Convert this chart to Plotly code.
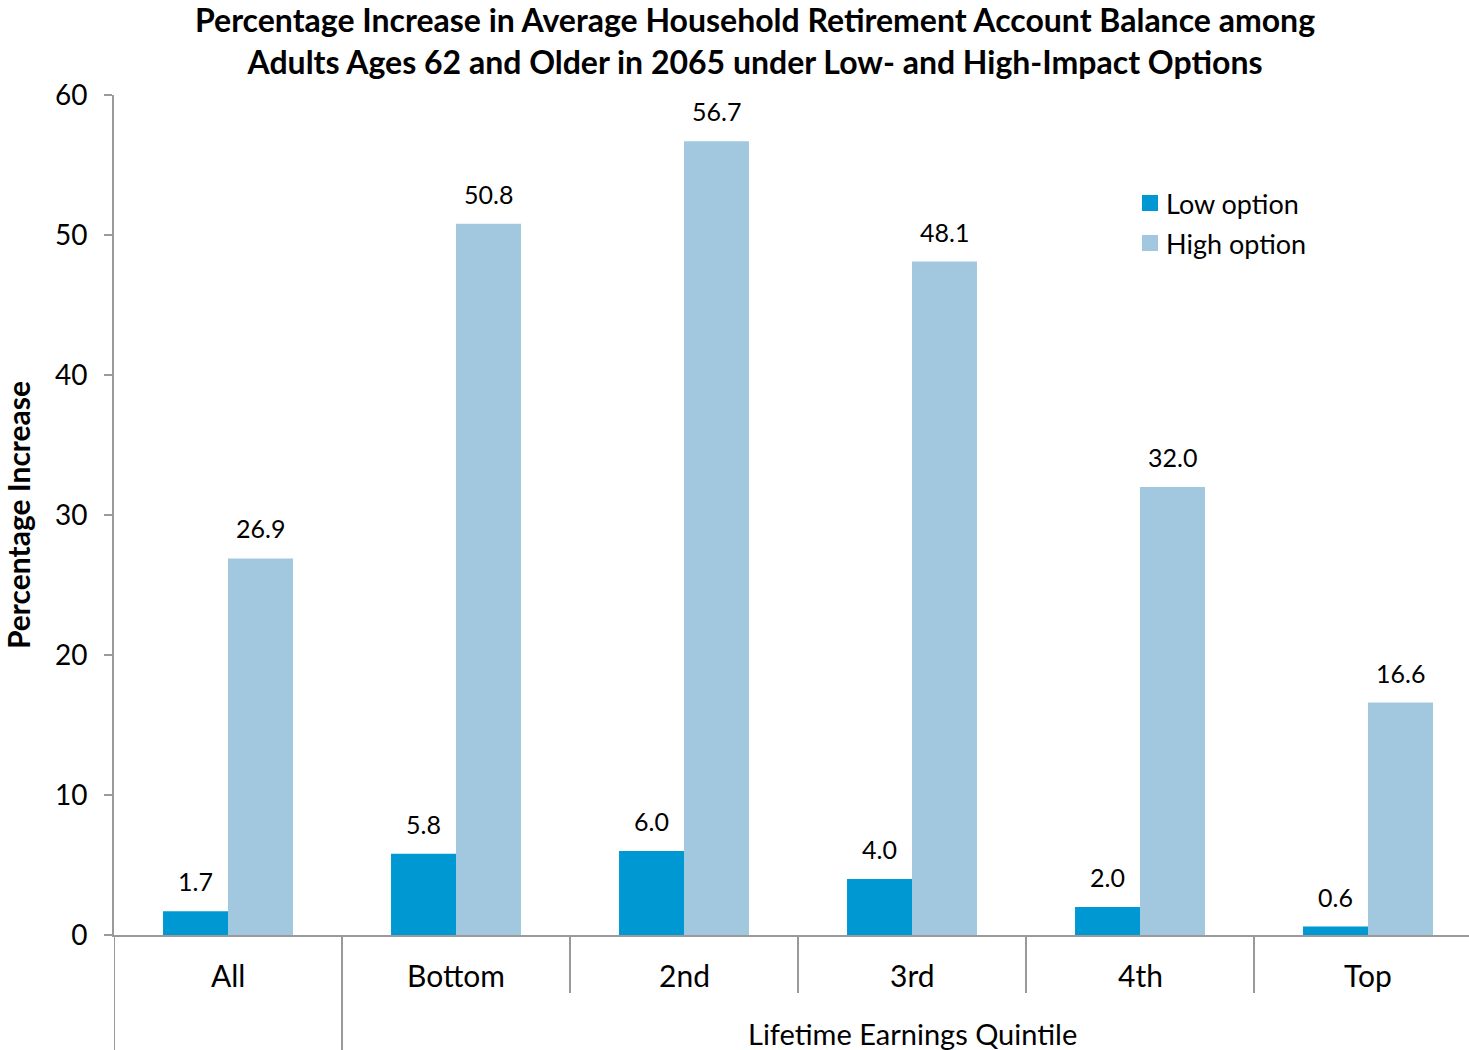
import plotly.graph_objects as go

# Chart data
categories = ["All", "Bottom", "2nd", "3rd", "4th", "Top"]
series_names = ["Low option", "High option"]
low_option = [1.7, 5.8, 6.0, 4.0, 2.0, 0.6]
high_option = [26.9, 50.8, 56.7, 48.1, 32.0, 16.6]
y_ticks = [0, 10, 20, 30, 40, 50, 60]
title_lines = [
    "Percentage Increase in Average Household Retirement Account Balance among",
    "Adults Ages 62 and Older in 2065 under Low- and High-Impact Options",
]

LOW_COLOR = "#0098D2"
HIGH_COLOR = "#A1C8DF"
AXIS_COLOR = "#9A9A9A"
FONT = "Gill Sans MT, Gill Sans, Lato, sans-serif"

W, H = 1469, 1050
ML, MR, MT, MB = 114, 0, 95, 115
plot_w = W - ML - MR
plot_h = H - MT - MB


def px_x(px):
    """pixel column -> paper x"""
    return (px - ML) / plot_w


def px_y(py):
    """pixel row -> paper y"""
    return (H - MB - py) / plot_h


x_pos = list(range(len(categories)))

fig = go.Figure()
fig.add_trace(go.Bar(x=x_pos, y=low_option, name=series_names[0], showlegend=False,
                     marker=dict(color=LOW_COLOR, line=dict(width=0))))
fig.add_trace(go.Bar(x=x_pos, y=high_option, name=series_names[1], showlegend=False,
                     marker=dict(color=HIGH_COLOR, line=dict(width=0))))

# value labels above each bar
bar_off = 0.1425
annotations = []
for i in x_pos:
    for val, off in ((low_option[i], -bar_off), (high_option[i], bar_off)):
        annotations.append(dict(x=i + off, y=val, xref="x", yref="y",
                                text=f"{val:.1f}", showarrow=False,
                                yanchor="bottom", yshift=13,
                                font=dict(family=FONT, size=25, color="#000")))

# category labels under the axis
for i, c in enumerate(categories):
    annotations.append(dict(x=i, y=px_y(975), xref="x", yref="paper",
                            text=c, showarrow=False, yanchor="middle",
                            font=dict(family=FONT, size=30, color="#000")))

# group title for the quintiles
annotations.append(dict(x=3, y=px_y(1033), xref="x", yref="paper",
                        text="Lifetime Earnings Quintile", showarrow=False,
                        yanchor="middle",
                        font=dict(family=FONT, size=29, color="#000")))

# two-line bold chart title
annotations.append(dict(x=px_x(755), y=px_y(40), xref="paper", yref="paper",
                        text="<br>".join(f"<b>{t}</b>" for t in title_lines),
                        showarrow=False, xanchor="center", yanchor="middle",
                        font=dict(family=FONT, size=32, color="#000")))

# legend
shapes = []
for name, color, cy in ((series_names[0], LOW_COLOR, 203), (series_names[1], HIGH_COLOR, 243)):
    shapes.append(dict(type="rect", xref="paper", yref="paper",
                       x0=px_x(1142), x1=px_x(1158), y0=px_y(cy - 8), y1=px_y(cy + 8),
                       fillcolor=color, line=dict(width=0)))
    annotations.append(dict(x=px_x(1164), y=px_y(cy), xref="paper", yref="paper",
                            text=name, showarrow=False, xanchor="left", yanchor="middle",
                            font=dict(family=FONT, size=27, color="#000")))

# separators between categories below the axis
shapes += [dict(type="line", xref="x", yref="paper", x0=-0.5, x1=-0.5,
                y0=0, y1=px_y(H), line=dict(color=AXIS_COLOR, width=2)),
           dict(type="line", xref="x", yref="paper", x0=0.5, x1=0.5,
                y0=0, y1=px_y(H), line=dict(color=AXIS_COLOR, width=2))]
for k in range(1, 5):
    shapes.append(dict(type="line", xref="x", yref="paper", x0=k + 0.5, x1=k + 0.5,
                       y0=0, y1=px_y(993), line=dict(color=AXIS_COLOR, width=2)))

fig.update_layout(
    width=W, height=H,
    margin=dict(l=ML, r=MR, t=MT, b=MB),
    paper_bgcolor="white", plot_bgcolor="white",
    barmode="group", bargap=0.43, bargroupgap=0,
    showlegend=False,
    xaxis=dict(range=[-0.5, 5.5 - 13 / 228], showticklabels=False, ticks="",
               showgrid=False, zeroline=False, showline=True,
               linecolor=AXIS_COLOR, linewidth=2, fixedrange=True),
    yaxis=dict(range=[0, 60], tickvals=y_ticks, ticks="outside", ticklen=8,
               tickcolor=AXIS_COLOR, tickwidth=2, showgrid=False, zeroline=False,
               showline=True, linecolor=AXIS_COLOR, linewidth=2,
               ticklabelstandoff=11,
               tickfont=dict(family=FONT, size=28, color="#000"),
               title=dict(text="<b>Percentage Increase</b>", standoff=20,
                          font=dict(family=FONT, size=30, color="#000"))),
    annotations=annotations,
    shapes=shapes,
)

fig.write_html("out.html")
